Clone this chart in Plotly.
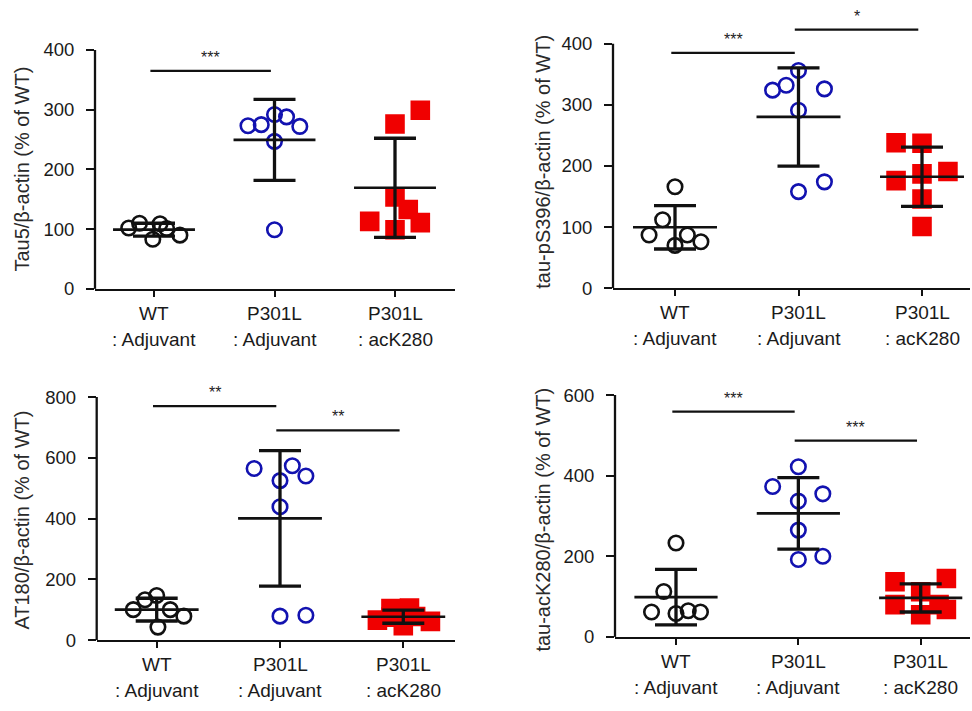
import numpy as np
import plotly.graph_objects as go

# ---------------- data ----------------
group_line1 = ["WT", "P301L", "P301L"]
group_line2 = [": Adjuvant", ": Adjuvant", ": acK280"]

# Panel A: Tau5/beta-actin
tau5_wt = [102, 110, 83, 109, 101, 90]
tau5_p301l = [273, 275, 292, 288, 272, 247, 99]
tau5_ack = [276, 299, 154, 133, 113, 111, 99]

# Panel B: tau-pS396/beta-actin
ps396_wt = [166, 112, 87, 87, 70, 76]
ps396_p301l = [356, 332, 324, 326, 291, 174, 158]
ps396_ack = [238, 237, 176, 187, 191, 146, 101]

# Panel C: AT180/beta-actin
at180_wt = [100.5, 133, 147, 100.5, 79, 43]
at180_p301l = [565, 574, 525, 540, 439, 79, 82]
at180_ack = [66, 48, 62, 104, 106, 76, 78]

# Panel D: tau-acK280/beta-actin
ack280_wt = [233, 112.5, 62, 58, 65, 62]
ack280_p301l = [422, 373, 355, 337, 265, 192, 200]
ack280_ack = [137, 145, 80, 112, 55, 68, 80]

# significance annotations: (from group, to group, height, label)
sig_a = [(0, 1, 365, "***")]
sig_b = [(0, 1, 385, "***"), (1, 2, 423, "*")]
sig_c = [(0, 1, 770, "**"), (1, 2, 690, "**")]
sig_d = [(0, 1, 559, "***"), (1, 2, 487, "***")]

# ---------------- style / layout ----------------
W, H = 972, 711
FONT = "Liberation Sans, Arial, sans-serif"
COLORS = ["#111111", "#1212b0", "#f00000"]
SYMBOLS = ["circle-open", "circle-open", "square"]

# horizontal scatter of points (Prism-style column scatter), category units
jit_a = [[-0.21, -0.12, -0.01, 0.05, 0.105, 0.215],
         [-0.22, -0.11, 0.0, 0.10, 0.21, 0.0, 0.0],
         [0.0, 0.21, 0.0, 0.11, -0.21, 0.21, 0.0]]
jit_b = [[0.0, -0.10, -0.21, 0.10, 0.0, 0.21],
         [0.0, -0.10, -0.21, 0.21, 0.0, 0.21, 0.0],
         [-0.21, 0.0, -0.21, 0.0, 0.21, 0.0, 0.0]]
jit_c = [[-0.19, -0.095, 0.0, 0.11, 0.22, 0.01],
         [-0.21, 0.10, 0.0, 0.21, 0.0, 0.0, 0.21],
         [-0.21, 0.0, 0.22, -0.10, 0.05, -0.10, 0.10]]
jit_d = [[0.0, -0.10, -0.20, 0.0, 0.10, 0.20],
         [0.0, -0.21, 0.20, 0.0, 0.0, 0.0, 0.20],
         [-0.21, 0.21, -0.21, 0.0, 0.0, 0.21, 0.15]]

# pixel geometry per panel
panels = [
    dict(data=[tau5_wt, tau5_p301l, tau5_ack], jit=jit_a, sig=sig_a,
         xl=95, xr=455, c0=154, sp=120.5, y0=293, k=0.6058, top=30, ymax=400, dtick=100,
         title="Tau5/β-actin (% of WT)", tx=22, ty=172),
    dict(data=[ps396_wt, ps396_p301l, ps396_ack], jit=jit_b, sig=sig_b,
         xl=613, xr=970, c0=675, sp=123.5, y0=292.3, k=0.62, top=5, ymax=400, dtick=100,
         title="tau-pS396/β-actin (% of WT)", tx=543, ty=164),
    dict(data=[at180_wt, at180_p301l, at180_ack], jit=jit_c, sig=sig_c,
         xl=96.7, xr=455, c0=156.7, sp=123.3, y0=649.3, k=0.30825, top=385, ymax=800, dtick=200,
         title="AT180/β-actin (% of WT)", tx=22, ty=528),
    dict(data=[ack280_wt, ack280_p301l, ack280_ack], jit=jit_d, sig=sig_d,
         xl=615, xr=970, c0=676, sp=122.35, y0=646, k=0.40883, top=385, ymax=600, dtick=200,
         title="tau-acK280/β-actin (% of WT)", tx=543, ty=527),
]

fig = go.Figure()
annotations = []
shapes = []
layout_axes = {}

for i, p in enumerate(panels):
    n = "" if i == 0 else str(i + 1)
    xa, ya = "x" + n, "y" + n
    xr0 = -(p["c0"] - p["xl"]) / p["sp"]
    xr1 = (p["xr"] - p["c0"]) / p["sp"]
    yr1 = (p["y0"] - p["top"]) / p["k"]

    # points
    for g, (vals, jit) in enumerate(zip(p["data"], p["jit"])):
        xs = [g + j for j in jit]
        fig.add_trace(go.Scatter(
            x=xs, y=vals, xaxis=xa, yaxis=ya, mode="markers", showlegend=False,
            marker=dict(symbol=SYMBOLS[g], size=14.5 if g < 2 else 17,
                        color=COLORS[g], line=dict(color=COLORS[g], width=2.6)),
            hoverinfo="skip"))
    # mean +/- SD
    for g, vals in enumerate(p["data"]):
        m = float(np.mean(vals))
        sd = float(np.std(vals, ddof=1))
        fig.add_trace(go.Scatter(
            x=[g - 0.34, g + 0.34], y=[m, m], xaxis=xa, yaxis=ya, mode="lines",
            line=dict(color="#111111", width=2.7), showlegend=False, hoverinfo="skip"))
        fig.add_trace(go.Scatter(
            x=[g], y=[m], xaxis=xa, yaxis=ya, mode="markers",
            marker=dict(size=1, color="rgba(0,0,0,0)"),
            error_y=dict(type="data", array=[sd], visible=True, color="#111111",
                         thickness=3.3, width=21),
            showlegend=False, hoverinfo="skip"))
    # significance bars
    for (a, b, h, lab) in p["sig"]:
        fig.add_trace(go.Scatter(
            x=[a - 0.03, b - 0.03], y=[h, h], xaxis=xa, yaxis=ya, mode="lines",
            line=dict(color="#111111", width=2.3), showlegend=False, hoverinfo="skip"))
        annotations.append(dict(
            x=(a + b) / 2 - 0.03, y=h, xref=xa, yref=ya, text=lab, showarrow=False,
            yanchor="bottom", yshift=3, font=dict(family=FONT, size=16, color="#222222")))
    # y-axis line (only up to last tick, Prism style)
    shapes.append(dict(type="line", xref=xa + " domain", yref=ya, x0=0, x1=0,
                       y0=0, y1=p["ymax"], line=dict(color="#111111", width=2.3)))
    # y-axis title
    annotations.append(dict(
        x=p["tx"] / W, y=1 - p["ty"] / H, xref="paper", yref="paper", text=p["title"],
        textangle=-90, showarrow=False, xanchor="center", yanchor="middle",
        font=dict(family=FONT, size=20, color="#2a2a2a")))
    # category labels (two lines, Prism spacing)
    for g in range(3):
        for txt, dy in ((group_line1[g], 25), (group_line2[g], 51)):
            annotations.append(dict(
                x=g, y=1 - (p["y0"] + dy) / H, xref=xa, yref="paper", text=txt,
                showarrow=False, xanchor="center", yanchor="middle",
                font=dict(family=FONT, size=19, color="#1a1a1a")))

    layout_axes["xaxis" + n] = dict(
        domain=[p["xl"] / W, p["xr"] / W], range=[xr0, xr1], anchor=ya,
        tickmode="array", tickvals=[0, 1, 2], showticklabels=False,
        showline=True, linecolor="#111111", linewidth=2.3, ticks="outside",
        ticklen=6, tickwidth=2.3, tickcolor="#111111", showgrid=False, zeroline=False,
        fixedrange=True)
    layout_axes["yaxis" + n] = dict(
        domain=[1 - p["y0"] / H, 1 - p["top"] / H], range=[0, yr1], anchor=xa,
        tickmode="linear", tick0=0, dtick=p["dtick"], showline=False, ticks="outside",
        ticklen=8, tickwidth=2.3, tickcolor="#111111", showgrid=False, zeroline=False,
        ticklabelstandoff=8,
        tickfont=dict(family=FONT, size=18.5, color="#1a1a1a"), fixedrange=True)

fig.update_layout(
    width=W, height=H, margin=dict(l=0, r=0, t=0, b=0),
    paper_bgcolor="white", plot_bgcolor="white",
    annotations=annotations, shapes=shapes, showlegend=False, **layout_axes)

fig.write_html("out.html")
